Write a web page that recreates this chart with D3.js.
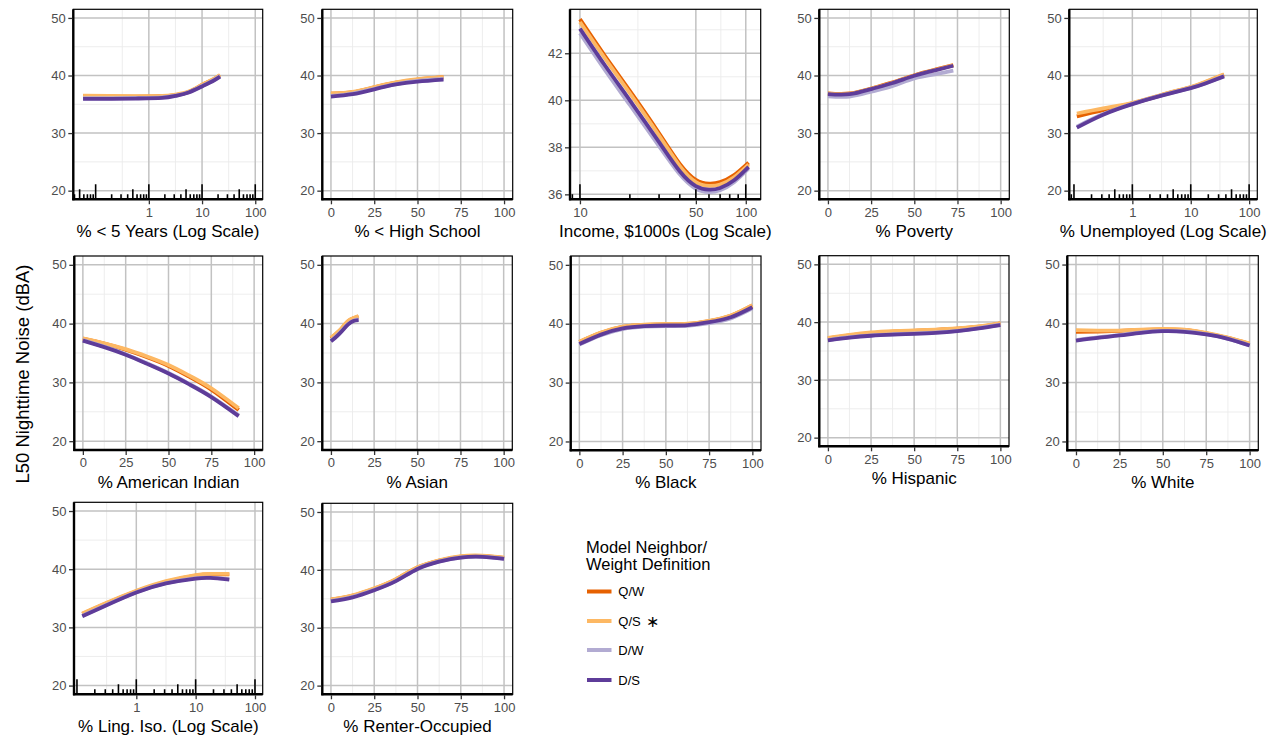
<!DOCTYPE html>
<html>
<head>
<meta charset="utf-8">
<script src="https://cdn.jsdelivr.net/npm/d3@7"></script>
<style>
  body { margin: 0; background: #fff; }
  text { font-family: "Liberation Sans", Arial, Helvetica, sans-serif; }
</style>
</head>
<body>
<svg id="chart" width="1280" height="740"></svg>
<script>
// ---- Model specifications (neighbor / weight definition) ----
const modelNames  = ["Q/W", "Q/S", "D/W", "D/S"];
const modelColors = ["#e66101", "#fdb863", "#b2abd2", "#5e3c99"];

// ---- Panel titles ----
const panelTitles = [
  "% < 5 Years (Log Scale)", "% < High School", "Income, $1000s (Log Scale)", "% Poverty",
  "% Unemployed (Log Scale)", "% American Indian", "% Asian", "% Black", "% Hispanic",
  "% White", "% Ling. Iso. (Log Scale)", "% Renter-Occupied"
];

// ---- Tick values ----
const pctTicks    = [0, 25, 50, 75, 100];
const logPctTicks = [1, 10, 100];
const incomeTicks = [10, 50, 100];
const noiseTicks  = [20, 30, 40, 50];
const incomeNoiseTicks = [36, 38, 40, 42];

// ---- Predicted L50 nighttime noise (dBA) along each covariate ----
const under5X  = [0.058, 0.178, 0.56, 1.78, 3.16, 5.6, 10, 15.8, 21.8];
const under5QW = [36.4, 36.35, 36.35, 36.4, 36.6, 37.15, 38.35, 39.25, 40.05];
const under5QS = [36.5, 36.45, 36.4, 36.45, 36.7, 37.2, 38.4, 39.3, 40.1];
const under5DW = [36.05, 36.05, 36.1, 36.2, 36.5, 37.1, 38.2, 39.1, 39.9];
const under5DS = [35.95, 35.95, 36.0, 36.1, 36.45, 37.05, 38.1, 39.0, 39.8];

const lessHsX  = [0, 12.5, 25, 37.5, 50, 65];
const lessHsQW = [36.85, 37.1, 37.95, 38.75, 39.3, 39.7];
const lessHsQS = [36.9, 37.15, 38.0, 38.8, 39.35, 39.7];
const lessHsDW = [36.45, 36.85, 37.7, 38.5, 39.05, 39.4];
const lessHsDS = [36.35, 36.75, 37.6, 38.45, 38.95, 39.3];

const incomeX  = [10, 14.1, 20, 30, 40, 50, 60, 70, 85, 104];
const incomeQW = [43.45, 41.9, 40.4, 38.6, 37.3, 36.62, 36.46, 36.52, 36.82, 37.35];
const incomeQS = [43.33, 41.8, 40.3, 38.5, 37.2, 36.52, 36.36, 36.42, 36.73, 37.27];
const incomeDW = [42.85, 41.3, 39.8, 38.05, 36.85, 36.24, 36.1, 36.18, 36.52, 37.1];
const incomeDS = [43.05, 41.5, 40.0, 38.22, 36.98, 36.35, 36.2, 36.27, 36.6, 37.17];

const povertyX  = [0, 12.5, 25, 37.5, 50, 62.5, 72.6];
const povertyQW = [36.9, 36.88, 37.75, 38.8, 40.05, 41.05, 41.8];
const povertyQS = [36.85, 36.82, 37.7, 38.75, 40.0, 41.0, 41.75];
const povertyDW = [36.4, 36.35, 37.2, 38.2, 39.5, 40.25, 40.83];
const povertyDS = [36.77, 36.75, 37.64, 38.7, 39.96, 40.95, 41.7];

const unempX  = [0.112, 0.316, 1, 3.16, 10, 17.8, 37.2];
const unempQW = [32.9, 34.0, 35.15, 36.6, 37.95, 38.85, 40.15];
const unempQS = [33.4, 34.3, 35.25, 36.65, 38.0, 38.9, 40.2];
const unempDW = [31.1, 33.3, 35.1, 36.55, 37.85, 38.65, 39.9];
const unempDS = [30.96, 33.2, 35.03, 36.5, 37.8, 38.6, 39.85];

const amIndX  = [0, 12.5, 25, 37.5, 50, 62.5, 75, 91];
const amIndQW = [37.45, 36.6, 35.55, 34.28, 32.8, 30.92, 28.78, 25.3];
const amIndQS = [37.5, 36.65, 35.65, 34.4, 32.95, 31.1, 29.0, 25.6];
const amIndDW = [37.2, 36.1, 34.8, 33.25, 31.6, 29.7, 27.6, 24.4];
const amIndDS = [37.1, 36.0, 34.7, 33.15, 31.5, 29.6, 27.5, 24.26];

const asianX  = [0, 2.5, 5, 7.5, 10, 13, 16];
const asianQW = [37.5, 38.1, 38.75, 39.6, 40.4, 40.9, 41.2];
const asianQS = [37.6, 38.2, 38.85, 39.7, 40.5, 40.95, 41.3];
const asianDW = [37.1, 37.7, 38.4, 39.2, 39.95, 40.5, 40.7];
const asianDS = [37.0, 37.6, 38.3, 39.1, 39.86, 40.43, 40.6];

const blackX  = [0, 12.5, 25, 37.5, 50, 62.5, 75, 87.5, 100];
const blackQW = [36.9, 38.45, 39.45, 39.8, 39.9, 39.95, 40.45, 41.35, 43.1];
const blackQS = [36.95, 38.5, 39.5, 39.85, 39.95, 40.0, 40.5, 41.4, 43.15];
const blackDW = [36.45, 38.05, 39.1, 39.5, 39.6, 39.65, 40.1, 40.9, 42.6];
const blackDS = [36.55, 38.15, 39.2, 39.58, 39.7, 39.75, 40.25, 41.1, 42.8];

const hispX  = [0, 12.5, 25, 37.5, 50, 62.5, 75, 87.5, 100];
const hispQW = [37.2, 37.7, 38.1, 38.35, 38.5, 38.65, 38.85, 39.2, 39.8];
const hispQS = [37.29, 37.8, 38.2, 38.42, 38.56, 38.7, 38.9, 39.25, 39.84];
const hispDW = [36.9, 37.38, 37.72, 37.9, 38.05, 38.22, 38.5, 38.95, 39.55];
const hispDS = [36.82, 37.3, 37.64, 37.83, 37.98, 38.15, 38.44, 38.9, 39.49];

const whiteX  = [0, 12.5, 25, 37.5, 50, 62.5, 75, 87.5, 100];
const whiteQW = [38.6, 38.65, 38.75, 38.9, 39.0, 38.9, 38.35, 37.55, 36.55];
const whiteQS = [38.87, 38.8, 38.8, 38.95, 39.1, 38.95, 38.4, 37.6, 36.6];
const whiteDW = [37.2, 37.65, 38.05, 38.5, 38.75, 38.65, 38.2, 37.45, 36.3];
const whiteDS = [37.1, 37.57, 37.97, 38.43, 38.7, 38.6, 38.14, 37.4, 36.26];

const lingIsoX  = [0.123, 0.316, 1, 3.16, 10, 17.8, 36.9];
const lingIsoQW = [32.3, 34.15, 36.2, 37.85, 38.9, 39.1, 39.1];
const lingIsoQS = [32.4, 34.25, 36.3, 37.95, 39.0, 39.2, 39.2];
const lingIsoDW = [32.0, 33.9, 36.05, 37.6, 38.45, 38.55, 38.3];
const lingIsoDS = [31.92, 33.8, 35.98, 37.55, 38.4, 38.5, 38.2];

const renterX  = [0, 12.5, 25, 37.5, 50, 62.5, 75, 87.5, 100];
const renterQW = [34.85, 35.55, 36.75, 38.35, 40.4, 41.6, 42.3, 42.4, 42.05];
const renterQS = [34.9, 35.6, 36.8, 38.4, 40.45, 41.65, 42.35, 42.45, 42.1];
const renterDW = [34.65, 35.35, 36.55, 38.1, 40.2, 41.45, 42.15, 42.28, 41.95];
const renterDS = [34.56, 35.26, 36.49, 38.06, 40.16, 41.43, 42.13, 42.25, 41.9];

// ---- Panel layout: [left, top, right, bottom] in px ----
const panelFrames = [
  [73.3, 9.3, 262.7, 199.3], [322.3, 9.3, 512.7, 199.3], [570, 9.3, 760.7, 199.3],
  [819.3, 9.3, 1009.3, 199.3], [1069.3, 9.3, 1257.3, 199.3],
  [74.3, 256, 262.7, 450], [322.3, 256, 512.3, 450], [570.7, 256, 761, 450.3],
  [819.3, 255.7, 1009, 446.3], [1067.3, 255.7, 1258.3, 450.3],
  [74, 502.3, 262.7, 694.3], [322.3, 503.3, 512.7, 694.3]
];

const linDomain = [-5, 105];
const noiseDomain = [18.5, 51.5];

const panels = [
  { x: under5X,  s: [under5QW, under5QS, under5DW, under5DS], log: true, xd: [Math.pow(10, -1.42), Math.pow(10, 2.14)], xt: logPctTicks },
  { x: lessHsX,  s: [lessHsQW, lessHsQS, lessHsDW, lessHsDS], log: false, xd: linDomain, xt: pctTicks },
  { x: incomeX,  s: [incomeQW, incomeQS, incomeDW, incomeDS], log: true, xd: [Math.pow(10, 0.94), Math.pow(10, 2.09)], xt: incomeTicks,
    yd: [35.79, 43.87], yt: incomeNoiseTicks },
  { x: povertyX, s: [povertyQW, povertyQS, povertyDW, povertyDS], log: false, xd: linDomain, xt: pctTicks },
  { x: unempX,   s: [unempQW, unempQS, unempDW, unempDS], log: true, xd: [Math.pow(10, -1.08), Math.pow(10, 2.14)], xt: logPctTicks },
  { x: amIndX,   s: [amIndQW, amIndQS, amIndDW, amIndDS], log: false, xd: linDomain, xt: pctTicks },
  { x: asianX,   s: [asianQW, asianQS, asianDW, asianDS], log: false, xd: linDomain, xt: pctTicks },
  { x: blackX,   s: [blackQW, blackQS, blackDW, blackDS], log: false, xd: linDomain, xt: pctTicks },
  { x: hispX,    s: [hispQW, hispQS, hispDW, hispDS], log: false, xd: linDomain, xt: pctTicks },
  { x: whiteX,   s: [whiteQW, whiteQS, whiteDW, whiteDS], log: false, xd: linDomain, xt: pctTicks },
  { x: lingIsoX, s: [lingIsoQW, lingIsoQS, lingIsoDW, lingIsoDS], log: true, xd: [Math.pow(10, -1.05), Math.pow(10, 2.13)], xt: logPctTicks },
  { x: renterX,  s: [renterQW, renterQS, renterDW, renterDS], log: false, xd: linDomain, xt: pctTicks }
];

// Minor breaks halfway between majors, extended one step past each end (transformed space)
function minorBreaks(major, lo, hi) {
  const b = major.slice();
  if (lo < b[0]) b.unshift(b[0] - (b[1] - b[0]));
  if (hi > b[b.length - 1]) b.push(b[b.length - 1] + (b[b.length - 1] - b[b.length - 2]));
  const out = [];
  for (let i = 0; i < b.length - 1; i++) out.push((b[i] + b[i + 1]) / 2);
  return out.filter(v => v > lo && v < hi);
}

const svg = d3.select("#chart");
const defs = svg.append("defs");

const MAJOR = "#c2c2c2", MINOR = "#ebebeb";

panels.forEach((p, i) => {
  const [x0, y0, x1, y1] = panelFrames[i];
  const x = (p.log ? d3.scaleLog() : d3.scaleLinear()).domain(p.xd).range([x0, x1]);
  const y = d3.scaleLinear().domain(p.yd || noiseDomain).range([y1, y0]);
  const yTicks = p.yt || noiseTicks;
  const g = svg.append("g");

  defs.append("clipPath").attr("id", "clip" + i)
    .append("rect").attr("x", x0).attr("y", y0).attr("width", x1 - x0).attr("height", y1 - y0);
  const inner = g.append("g").attr("clip-path", `url(#clip${i})`);

  // grid: minor then major
  const tx = p.log ? Math.log10 : (v => v);
  const inv = p.log ? (v => Math.pow(10, v)) : (v => v);
  const xMinor = minorBreaks(p.xt.map(tx), tx(p.xd[0]), tx(p.xd[1])).map(inv);
  const yd = y.domain();
  const yMinor = minorBreaks(yTicks, yd[0], yd[1]);

  inner.selectAll(".vminor").data(xMinor).join("line")
    .attr("x1", d => x(d)).attr("x2", d => x(d)).attr("y1", y0).attr("y2", y1)
    .attr("stroke", MINOR).attr("stroke-width", 0.9);
  inner.selectAll(".hminor").data(yMinor).join("line")
    .attr("y1", d => y(d)).attr("y2", d => y(d)).attr("x1", x0).attr("x2", x1)
    .attr("stroke", MINOR).attr("stroke-width", 0.9);
  inner.selectAll(".vmajor").data(p.xt).join("line")
    .attr("x1", d => x(d)).attr("x2", d => x(d)).attr("y1", y0).attr("y2", y1)
    .attr("stroke", MAJOR).attr("stroke-width", 1.5);
  inner.selectAll(".hmajor").data(yTicks).join("line")
    .attr("y1", d => y(d)).attr("y2", d => y(d)).attr("x1", x0).attr("x2", x1)
    .attr("stroke", MAJOR).attr("stroke-width", 1.5);

  // model curves (smooth cubic through the estimates)
  const line = d3.line().x(d => x(d[0])).y(d => y(d[1])).curve(d3.curveNatural);
  p.s.forEach((vals, k) => {
    inner.append("path")
      .attr("d", line(p.x.map((xv, j) => [xv, vals[j]])))
      .attr("fill", "none").attr("stroke", modelColors[k])
      .attr("stroke-width", 3.8).attr("stroke-linecap", "butt");
  });

  // logarithmic tick marks along the bottom
  if (p.log) {
    const lt = [];
    for (let e = -2; e <= 2; e++) for (let m = 1; m <= 9; m++) {
      const v = m * Math.pow(10, e);
      if (v >= p.xd[0] && v <= p.xd[1]) lt.push({ v, len: m === 1 ? 15 : (m === 5 ? 10 : 5) });
    }
    inner.selectAll(".logtick").data(lt).join("line")
      .attr("x1", d => x(d.v)).attr("x2", d => x(d.v))
      .attr("y1", y1).attr("y2", d => y1 - d.len)
      .attr("stroke", "#000").attr("stroke-width", 1.6);
  }

  // panel border and axis lines
  g.append("rect").attr("x", x0).attr("y", y0).attr("width", x1 - x0).attr("height", y1 - y0)
    .attr("fill", "none").attr("stroke", "#000").attr("stroke-width", 1.2);
  g.append("line").attr("x1", x0).attr("x2", x0).attr("y1", y0).attr("y2", y1 + 1)
    .attr("stroke", "#000").attr("stroke-width", 2.4);
  g.append("line").attr("x1", x0 - 1).attr("x2", x1).attr("y1", y1).attr("y2", y1)
    .attr("stroke", "#000").attr("stroke-width", 2.4);

  // axes
  const ya = g.append("g").attr("transform", `translate(${x0 - 1},0)`)
    .call(d3.axisLeft(y).tickValues(yTicks).tickSize(4).tickPadding(2.5));
  const xa = g.append("g").attr("transform", `translate(0,${y1 + 1})`)
    .call(d3.axisBottom(x).tickValues(p.xt).tickFormat(d => String(d)).tickSize(4).tickPadding(3));
  [ya, xa].forEach(a => {
    a.select(".domain").remove();
    a.selectAll(".tick line").attr("stroke", "#333").attr("stroke-width", 1.3);
    a.selectAll(".tick text").attr("fill", "#4d4d4d").style("font-size", "13px")
      .style("font-family", '"Liberation Sans", Arial, sans-serif');
  });

  g.append("text").attr("x", (x0 + x1) / 2).attr("y", y1 + 38)
    .attr("text-anchor", "middle").style("font-size", "17px").attr("fill", "#000")
    .text(panelTitles[i]);
});

// shared y-axis title
svg.append("text").attr("transform", "translate(29,374) rotate(-90)")
  .attr("text-anchor", "middle").style("font-size", "18.5px").attr("fill", "#000")
  .text("L50 Nighttime Noise (dBA)");

// legend
const legend = svg.append("g");
legend.append("text").attr("x", 586).attr("y", 553).style("font-size", "16.5px").text("Model Neighbor/");
legend.append("text").attr("x", 586).attr("y", 570).style("font-size", "16.5px").text("Weight Definition");
const keyY = [591.5, 621, 650, 680];
modelNames.forEach((name, k) => {
  legend.append("line").attr("x1", 587).attr("x2", 611.5).attr("y1", keyY[k]).attr("y2", keyY[k])
    .attr("stroke", modelColors[k]).attr("stroke-width", 4);
  const t = legend.append("text").attr("x", 618.3).attr("y", keyY[k]).attr("dy", "0.35em")
    .style("font-size", "13px").attr("fill", "#000").text(name);
  if (name === "Q/S") t.append("tspan").attr("dx", 5).attr("dy", "0.1em").style("font-size", "16px").text("\u2217");
});
</script>
</body>
</html>
